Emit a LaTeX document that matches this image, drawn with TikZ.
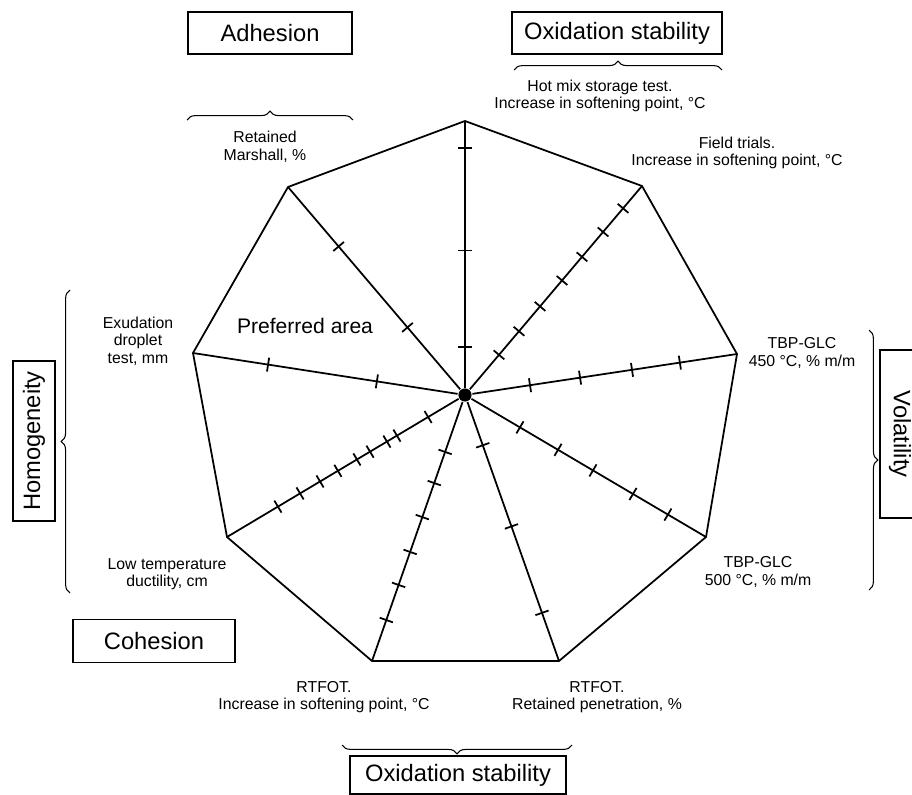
\documentclass[tikz,border=0pt]{standalone}
\usepackage{fontspec}
\setmainfont{Liberation Sans}
\usetikzlibrary{calc,decorations.pathreplacing}
\begin{document}
\begin{tikzpicture}[x=0.2mm, y=-0.2mm,
			line width=1pt,
			every node/.style={align=center, font=\fontsize{9}{10}\selectfont},
			group/.style={draw, line width=0.8pt, inner sep=0pt, font=\fontsize{13.5}{15}\selectfont},
			brace/.style={decorate, decoration={brace, amplitude=5pt}, line width=0.6pt},
			hub/.style={circle, fill, inner sep=0pt, minimum size=7.5pt},
		]
		\useasboundingbox (0,0) rectangle (912,795);

		\node[hub] (c) at (465,395) {};
		\coordinate (v1) at (465,121);
		\coordinate (v2) at (642,186);
		\coordinate (v3) at (737,354);
		\coordinate (v4) at (706,537);
		\coordinate (v5) at (559,661);
		\coordinate (v6) at (372,661);
		\coordinate (v7) at (227,537);
		\coordinate (v8) at (193,353);
		\coordinate (v9) at (288,187);

		\draw (v1) -- (v2) -- (v3) -- (v4) -- (v5) -- (v6) -- (v7) -- (v8) -- (v9) -- cycle;
		\foreach \v/\list in {v1/{0.175,0.527,0.902},
				v2/{0.192,0.305,0.424,0.548,0.661,0.780,0.893},
				v3/{0.239,0.423,0.614,0.790},
				v4/{0.228,0.386,0.531,0.697,0.842},
				v5/{0.189,0.494,0.819},
				v6/{0.214,0.331,0.459,0.590,0.714,0.846},
				v7/{0.155,0.286,0.328,0.399,0.454,0.534,0.609,0.693,0.786},
				v8/{0.324,0.724},
				v9/{0.325,0.714}} {
			\draw (c) -- (\v);
			\foreach \f in \list {
				\coordinate (t) at ($(c)!\f!(\v)$);
				\draw ($(t)!0.14cm!90:(\v)$) -- ($(t)!0.14cm!-90:(\v)$);
			}
		}

		\node (hot)   at (600,96)  {Hot mix storage test.\\Increase in softening point, °C};
		\node (field) at (737,153) {Field trials.\\Increase in softening point, °C};
		\node (tbpa)  at (802,353) {TBP-GLC\\450 °C, \% m/m};
		\node (tbpb)  at (758,572) {TBP-GLC\\500 °C, \% m/m};
		\node (rtfa)  at (324,697) {RTFOT.\\Increase in softening point, °C};
		\node (rtfb)  at (597,697) {RTFOT.\\Retained penetration, \%};
		\node (low)   at (167,574) {Low temperature\\ductility, cm};
		\node (exu)   at (138,341) {Exudation\\droplet\\test, mm};
		\node (ret)   at (265,147) {Retained\\Marshall, \%};
		\node[font=\fontsize{12}{14}\selectfont] (pref) at (305,326) {Preferred area};

		\node[group, minimum width=3.28cm, minimum height=0.84cm] (adh) at (270,33) {Adhesion};
		\node[group, minimum width=4.2cm, minimum height=0.84cm] (oxt) at (617,33) {Oxidation stability};
		\node[group, minimum width=3.2cm, minimum height=0.84cm, rotate=90] (hom) at (34,441) {Homogeneity};
		\node[group, minimum width=3.24cm, minimum height=0.86cm] (coh) at (154,641) {Cohesion};
		\node[group, minimum width=4.32cm, minimum height=0.76cm] (oxb) at (458,775) {Oxidation stability};
		\node[group, minimum width=3.36cm, minimum height=0.8cm, rotate=-90] (vol) at (900,434) {Volatility};

		\draw[brace] (187,120) -- (353,120);
		\draw[brace] (514,70) -- (722,70);
		\draw[brace] (572,745) -- (342,745);
		\draw[brace] (70,593) -- (70,290);
		\draw[brace] (869,330) -- (869,590);
	\end{tikzpicture}
\end{document}
